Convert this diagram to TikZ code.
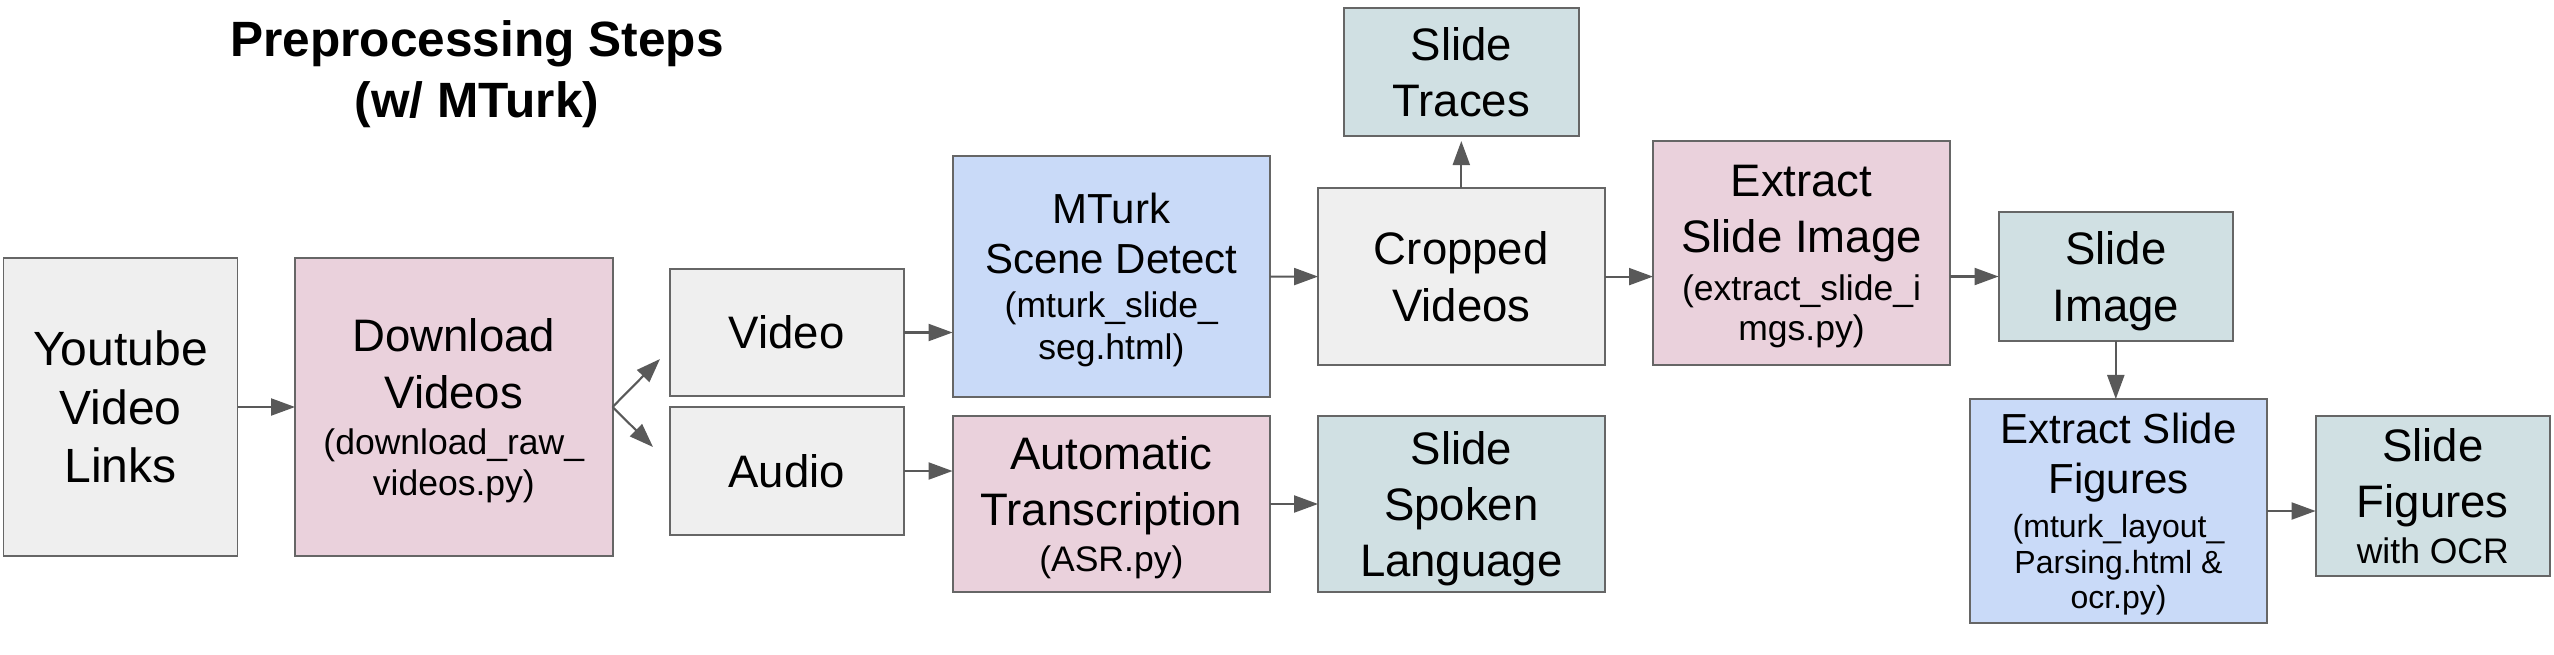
\documentclass[tikz,border=0pt]{standalone}
\usepackage{fontspec}
\setmainfont{Liberation Sans}
\usetikzlibrary{arrows.meta}

\definecolor{boxgrey}{HTML}{EFEFEF}
\definecolor{boxpink}{HTML}{EAD1DC}
\definecolor{boxblue}{HTML}{C9DAF8}
\definecolor{boxteal}{HTML}{D0E0E3}
\definecolor{linegrey}{HTML}{666666}
\definecolor{arrowgrey}{HTML}{595959}

\newcommand{\bigsz}{\fontsize{12.95}{16}\selectfont}
\newcommand{\smlsz}{\fontsize{10.1}{11.4}\selectfont}
\newcommand{\tinysz}{\fontsize{9.1}{10.1}\selectfont}
% last line without descender depth
\newcommand{\nodp}[1]{\raisebox{0pt}[\height][0pt]{#1}}

\begin{document}
\begin{tikzpicture}[x=0.01cm, y=-0.01cm,
    box/.style={draw=linegrey, line width=0.55pt, inner sep=0pt, outer sep=0pt,
                align=center, font=\bigsz},
    wh/.style 2 args={minimum width=#1*0.01cm, minimum height=#2*0.01cm},
    arr/.style={draw=arrowgrey, line width=0.6pt,
                -{Triangle[length=0.24cm, width=0.17cm]}}]

  \useasboundingbox (0,0) rectangle (2554,654);

  % title
  \node[font=\bfseries\fontsize{14.1}{17.4}\selectfont, align=center] (title)
    at (477,74) {Preprocessing Steps\\(w/ MTurk)};

  % input and download
  \node[box, wh={234}{298}, fill=boxgrey, font=\fontsize{13.66}{16.6}\selectfont] (yt)
    at (120.5,407) {Youtube\\Video\\Links};
  \node[box, wh={317.5}{298}, fill=boxpink] (dl) at (453.8,407)
    {Download\\Videos\\[-2.7pt]{\smlsz (download\_raw\_}\\[-4.6pt]{\smlsz \nodp{videos.py)}}};

  % streams
  \node[box, wh={234.5}{127}, fill=boxgrey] (video) at (786.8,332.5) {Video};
  \node[box, wh={234.5}{128}, fill=boxgrey] (audio) at (786.8,471) {Audio};

  % second column
  \node[box, wh={317.5}{241}, fill=boxblue, font=\fontsize{11.95}{14.2}\selectfont] (mturk)
    at (1111.3,276.5)
    {MTurk\\Scene Detect\\[-1.7pt]{\smlsz (mturk\_slide\_}\\[-2.3pt]{\smlsz \nodp{seg.html)}}};
  \node[box, wh={317.5}{176}, fill=boxpink] (asr) at (1111.3,504)
    {Automatic\\Transcription\\[-3pt]{\smlsz \nodp{(ASR.py)}}};

  % third column
  \node[box, wh={234.6}{128}, fill=boxteal] (traces) at (1461.3,72) {Slide\\Traces};
  \node[box, wh={286.5}{177}, fill=boxgrey] (crop) at (1461.3,276.6) {Cropped\\Videos};
  \node[box, wh={286.5}{176}, fill=boxteal] (spoken) at (1461.3,504)
    {Slide\\Spoken\\\nodp{Language}};

  % slide image
  \node[box, wh={297}{224.4}, fill=boxpink] (eximg) at (1801.5,252.8)
    {Extract\\Slide Image\\[-2.3pt]{\smlsz (extract\_slide\_i}\\[-4.6pt]{\smlsz \nodp{mgs.py)}}};
  \node[box, wh={234.5}{129}, fill=boxteal] (slideimg) at (2115.8,276.5)
    {Slide\\\nodp{Image}};

  % slide figures
  \node[box, wh={297}{224}, fill=boxblue, font=\fontsize{11.95}{14.2}\selectfont] (exfig)
    at (2118.5,511)
    {Extract Slide\\Figures\\[-1.7pt]{\tinysz (mturk\_layout\_}\\[-4.1pt]{\tinysz Parsing.html \&}\\[-4.1pt]{\tinysz \nodp{ocr.py)}}};
  \node[box, wh={234.4}{160}, fill=boxteal] (ocr) at (2432.8,496)
    {Slide\\Figures\\[-3pt]{\smlsz with OCR}};

  % free ends of the split
  \coordinate (vtip) at (660,359);
  \coordinate (atip) at (653,447);

  % arrows
  \draw[arr] (yt) -- (dl);
  \draw[arr] (dl.east) -- (vtip);
  \draw[arr] (dl.east) -- (atip);
  \draw[arr] (video) -- (mturk.west |- video);
  \draw[arr] (audio) -- (asr.west |- audio);
  \draw[arr] (mturk) -- (crop);
  \draw[arr] (asr) -- (spoken);
  \draw[arr, shorten >=0.05cm] (crop) -- (traces);
  \draw[arr] (crop.east) -- (eximg.west |- crop.east);
  \draw[arr] (eximg.east |- slideimg.west) -- (slideimg.west);
  \draw[arr] (slideimg.south) -- (slideimg.south |- exfig.north);
  \draw[arr] (exfig.east) -- (ocr.west |- exfig.east);

\end{tikzpicture}
\end{document}
